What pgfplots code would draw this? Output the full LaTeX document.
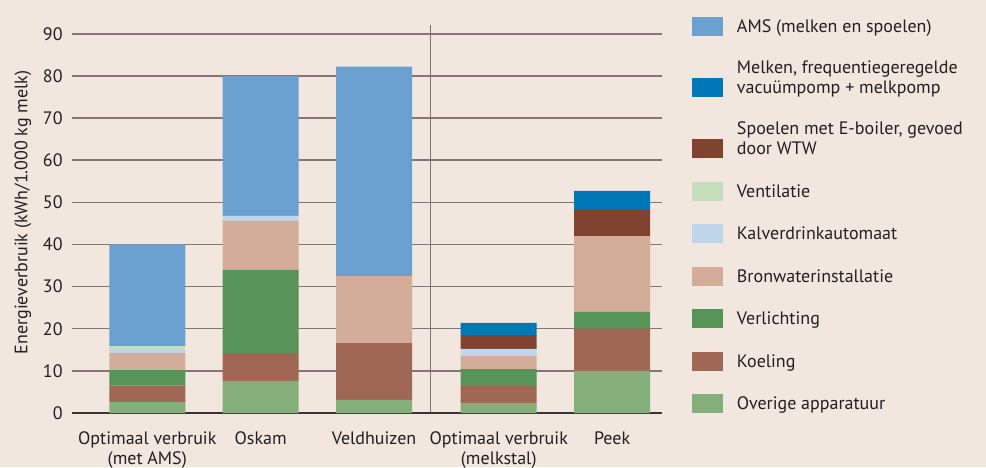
\documentclass[border=0pt]{standalone}
\usepackage{fontspec}
\setmainfont{PT Sans}
\usepackage{pgfplots}
\pgfplotsset{compat=1.18}
\definecolor{bg}{HTML}{F2E7DF}
\definecolor{txt}{HTML}{231F20}
\definecolor{gridc}{HTML}{857575}
\definecolor{zeroc}{HTML}{3E3333}
\definecolor{cAMS}{HTML}{6AA1D0}
\definecolor{cMelk}{HTML}{0077B6}
\definecolor{cSpoel}{HTML}{7F4330}
\definecolor{cVent}{HTML}{C5DCBD}
\definecolor{cKalf}{HTML}{BED5EA}
\definecolor{cBron}{HTML}{D3AD99}
\definecolor{cVerl}{HTML}{569457}
\definecolor{cKoel}{HTML}{A06854}
\definecolor{cOver}{HTML}{84AE7A}
\begin{document}
\begin{tikzpicture}[font=\fontsize{9}{10}\selectfont, text=txt]
\fill[bg] (0,0) rectangle (493pt,233.5pt);
\useasboundingbox (0,0) rectangle (493pt,233.5pt);
\begin{axis}[
  at={(36pt,27pt)}, anchor=south west,
  scale only axis, width=295pt, height=194pt,
  ybar stacked, bar width=38pt,
  xmin=-0.664, xmax=4.54, ymin=0, ymax=92.1,
  ytick={0,10,...,90},
  xtick={0,1,2,3.1,4.1},
  xticklabels={{Optimaal verbruik\\(met AMS)},Oskam,Veldhuizen,{Optimaal verbruik\\(melkstal)},Peek},
  xticklabel style={align=center, anchor=north, inner sep=0pt, yshift=-9pt},
  yticklabel style={anchor=east, inner sep=0pt, xshift=-4.5pt},
  /pgf/number format/assume math mode=true,
  major tick length=0pt,
  axis line style={draw=none},
  ymajorgrids,
  major grid style={color=gridc, line width=0.75pt},
  extra y ticks={0}, extra y tick labels={},
  extra y tick style={major grid style={color=zeroc, line width=0.8pt}},
  extra x ticks={2.5}, extra x tick labels={},
  extra x tick style={xmajorgrids=true, major grid style={color=gridc, line width=0.75pt}},
  ylabel={Energieverbruik (kWh/1.000 kg melk)},
  ylabel style={at={(axis description cs:-0.0831,0.517)}, anchor=center, inner sep=0pt},
  reverse legend,
  legend image code/.code={\fill[#1] (0pt,-1.75pt) rectangle (15.5pt,7.75pt);},
  legend style={draw=none, fill=none, at={(axis description cs:1.0508,1.0195)}, anchor=north west,
    inner sep=0pt, outer sep=0pt, row sep=10.5pt, column sep=7pt,
    cells={anchor=base west},
    nodes={inner sep=0pt, text depth=, align=left}},
]
\addplot[fill=cOver, draw=none] coordinates {(0,2.6) (1,7.6) (2,3.1) (3.1,2.4) (4.1,10.0)};
\addlegendentry{\strut Overige apparatuur}
\addplot[fill=cKoel, draw=none] coordinates {(0,3.9) (1,6.6) (2,13.5) (3.1,4.0) (4.1,10.0)};
\addlegendentry{\strut Koeling}
\addplot[fill=cVerl, draw=none] coordinates {(0,3.7) (1,19.8) (2,0) (3.1,4.0) (4.1,4.0)};
\addlegendentry{\strut Verlichting}
\addplot[fill=cBron, draw=none] coordinates {(0,4.0) (1,11.6) (2,15.9) (3.1,3.1) (4.1,18.0)};
\addlegendentry{\strut Bronwaterinstallatie}
\addplot[fill=cKalf, draw=none] coordinates {(0,0.8) (1,1.2) (2,0) (3.1,1.7) (4.1,0)};
\addlegendentry{\strut Kalverdrinkautomaat}
\addplot[fill=cVent, draw=none] coordinates {(0,0.9) (1,0) (2,0) (3.1,0) (4.1,0)};
\addlegendentry{\strut Ventilatie}
\addplot[fill=cSpoel, draw=none] coordinates {(0,0) (1,0) (2,0) (3.1,3.3) (4.1,6.2)};
\addlegendentry{\strut Spoelen met E-boiler, gevoed\\\strut door WTW}
\addplot[fill=cMelk, draw=none] coordinates {(0,0) (1,0) (2,0) (3.1,2.9) (4.1,4.5)};
\addlegendentry{\strut Melken, frequentiegeregelde\\\strut vacuümpomp + melkpomp}
\addplot[fill=cAMS, draw=none] coordinates {(0,24.1) (1,33.2) (2,49.7) (3.1,0) (4.1,0)};
\addlegendentry{\strut AMS (melken en spoelen)}
\end{axis}
\end{tikzpicture}
\end{document}
